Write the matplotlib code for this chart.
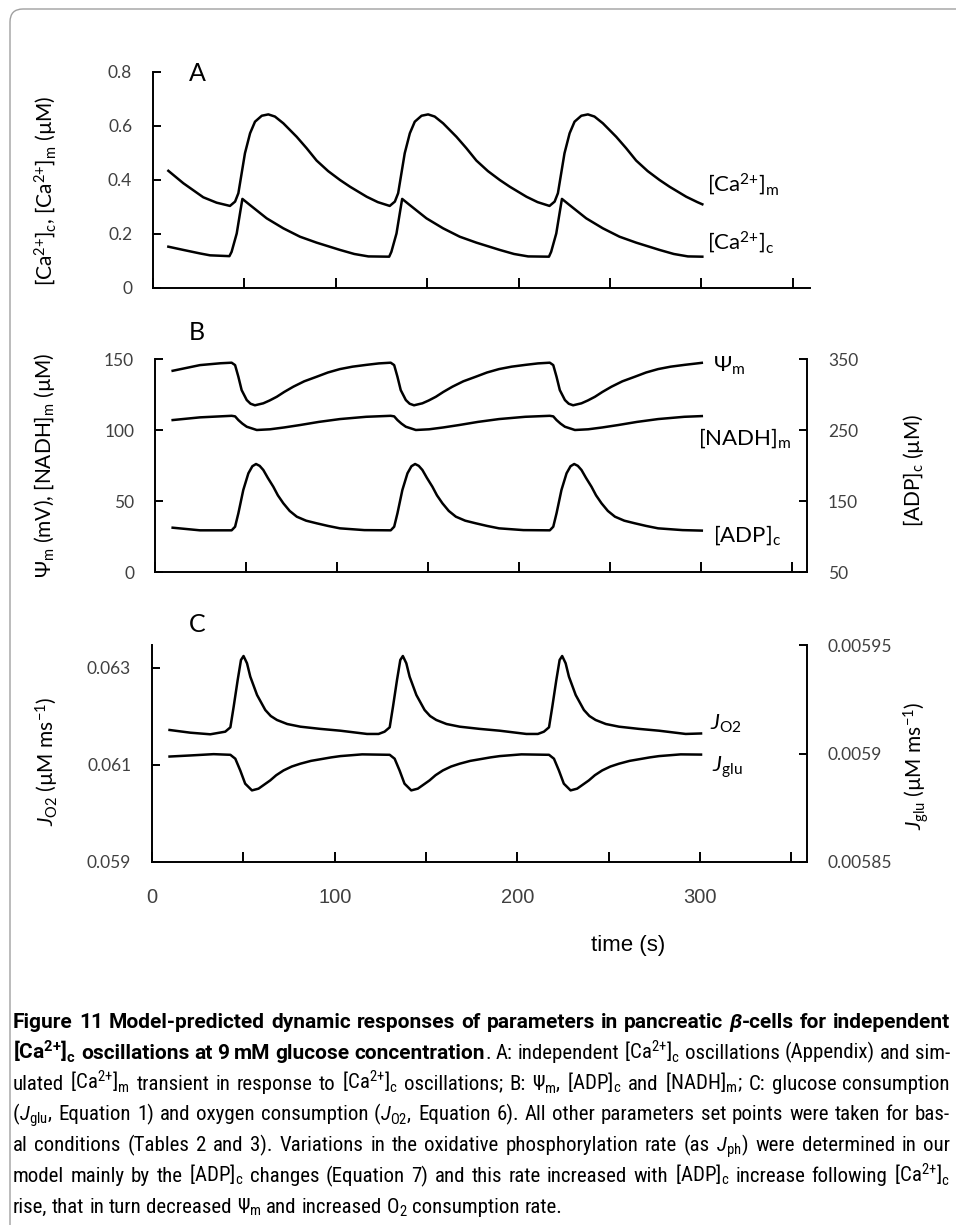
import matplotlib
matplotlib.use('Agg')
import matplotlib.pyplot as plt
from matplotlib import font_manager
from matplotlib.patches import FancyBboxPatch
from matplotlib.transforms import IdentityTransform

# ---------------------------------------------------------------- data
time_ticks = [0, 50, 100, 150, 200, 250, 300, 350]
time_ticklabels = ['0', '', '100', '', '200', '', '300', '']

# Panel A : [Ca2+]m and [Ca2+]c (uM)
ca_m_t = [8.4, 16.6, 27.5, 34.8,
          42.1, 44.9, 46.7, 48.5, 50.3, 53.1, 55.8, 59.5, 63.1, 66.7, 71.3, 78.6, 84.0, 89.5, 95.8, 102.3, 107.8, 116.9, 123.0,
          129.5, 132.3, 134.1, 135.9, 137.7, 140.5, 143.2, 146.9, 150.5, 154.1, 158.7, 166.0, 171.4, 176.9, 183.2, 189.7, 195.2, 204.3, 210.4,
          216.9, 219.7, 221.5, 223.3, 225.1, 227.9, 230.6, 234.3, 237.9, 241.5, 246.1, 253.4, 258.8, 264.3, 270.6, 277.1, 282.6, 291.7, 297.8,
          300.5]
ca_m = [0.434, 0.388, 0.336, 0.316,
        0.304, 0.320, 0.351, 0.425, 0.499, 0.573, 0.616, 0.638, 0.643, 0.635, 0.610, 0.560, 0.518, 0.472, 0.433, 0.400, 0.375, 0.338, 0.318,
        0.304, 0.320, 0.351, 0.425, 0.499, 0.573, 0.616, 0.638, 0.643, 0.635, 0.610, 0.560, 0.518, 0.472, 0.433, 0.400, 0.375, 0.338, 0.318,
        0.304, 0.320, 0.351, 0.425, 0.499, 0.573, 0.616, 0.638, 0.643, 0.635, 0.610, 0.560, 0.518, 0.472, 0.433, 0.400, 0.375, 0.338, 0.318,
        0.310]

ca_c_t = [8.4, 16.6, 25.7, 31.2, 41.8,
          43.0, 45.8, 47.6, 48.9, 53.1, 62.2, 71.3, 80.4, 89.5, 102.3, 110.1, 117.8, 129.2,
          130.4, 133.2, 135.0, 136.3, 140.5, 149.6, 158.7, 167.8, 176.9, 189.7, 197.5, 205.2, 216.6,
          217.8, 220.6, 222.4, 223.7, 227.9, 237.0, 246.1, 255.2, 264.3, 277.1, 284.9, 292.6, 300.5]
ca_c = [0.153, 0.141, 0.128, 0.121, 0.118,
        0.134, 0.202, 0.277, 0.330, 0.307, 0.258, 0.221, 0.190, 0.168, 0.141, 0.126, 0.117, 0.116,
        0.134, 0.202, 0.277, 0.330, 0.307, 0.258, 0.221, 0.190, 0.168, 0.141, 0.126, 0.117, 0.116,
        0.134, 0.202, 0.277, 0.330, 0.307, 0.258, 0.221, 0.190, 0.168, 0.141, 0.126, 0.117, 0.116]
ca_ticks = [0, 0.2, 0.4, 0.6, 0.8]
ca_ticklabels = ['0', '0.2', '0.4', '0.6', '0.8']

# Panel B : Psi_m (mV), [NADH]m (uM) on left axis; [ADP]c (uM) on right axis
psi_t = [9.7, 24.7, 36.0, 42.1,
         44.0, 45.8, 47.6, 50.4, 52.5, 54.9, 59.5, 63.0, 66.9, 71.0, 76.0, 82.0, 88.8, 95.0, 101.6, 108.5, 116.3, 123.0, 129.5,
         131.4, 133.2, 135.0, 137.8, 139.9, 142.3, 146.9, 150.4, 154.3, 158.4, 163.4, 169.4, 176.2, 182.4, 189.0, 195.9, 203.7, 210.4, 216.9,
         218.8, 220.6, 222.4, 225.2, 227.3, 229.7, 234.3, 237.8, 241.7, 245.8, 250.8, 256.8, 263.6, 269.8, 276.4, 283.3, 291.1, 297.8,
         300.4]
psi = [141.7, 145.7, 147.0, 147.4,
       145.7, 137.5, 128.1, 121.1, 118.5, 117.4, 118.8, 120.8, 123.4, 126.8, 130.5, 134.3, 137.5, 140.5, 142.9, 144.6, 145.9, 146.9, 147.4,
       145.7, 137.5, 128.1, 121.1, 118.5, 117.4, 118.8, 120.8, 123.4, 126.8, 130.5, 134.3, 137.5, 140.5, 142.9, 144.6, 145.9, 146.9, 147.4,
       145.7, 137.5, 128.1, 121.1, 118.5, 117.4, 118.8, 120.8, 123.4, 126.8, 130.5, 134.3, 137.5, 140.5, 142.9, 144.6, 145.9, 146.9,
       147.3]

nadh_t = [9.7, 24.7, 42.1,
          44.0, 45.8, 48.0, 50.4, 55.9, 63.2, 71.0, 79.7, 90.0, 101.6, 116.0, 129.5,
          131.4, 133.2, 135.4, 137.8, 143.3, 150.6, 158.4, 167.1, 177.4, 189.0, 203.4, 216.9,
          218.8, 220.6, 222.8, 225.2, 230.7, 238.0, 245.8, 254.5, 264.8, 276.4, 290.8, 300.4]
nadh = [107.0, 108.9, 110.0,
        109.6, 107.0, 104.5, 102.3, 100.0, 100.5, 101.8, 103.5, 105.7, 107.7, 109.3, 110.0,
        109.6, 107.0, 104.5, 102.3, 100.0, 100.5, 101.8, 103.5, 105.7, 107.7, 109.3, 110.0,
        109.6, 107.0, 104.5, 102.3, 100.0, 100.5, 101.8, 103.5, 105.7, 107.7, 109.3, 109.8]

adp_t = [9.7, 24.7, 42.1,
         44.0, 45.8, 48.5, 51.3, 53.5, 55.5, 57.5, 59.5, 62.0, 65.0, 67.5, 70.5, 74.0, 77.9, 83.0, 88.8, 95.0, 101.6, 115.0, 129.5,
         131.4, 133.2, 135.9, 138.7, 140.9, 142.9, 144.9, 146.9, 149.4, 152.4, 154.9, 157.9, 161.4, 165.3, 170.4, 176.2, 182.4, 189.0, 202.4, 216.9,
         218.8, 220.6, 223.3, 226.1, 228.3, 230.3, 232.3, 234.3, 236.8, 239.8, 242.3, 245.3, 248.8, 252.7, 257.8, 263.6, 269.8, 276.4, 289.8, 300.4]
adp = [112.4, 108.7, 108.7,
       113.8, 132.7, 165.5, 189.0, 199.0, 202.1, 199.5, 193.7, 182.5, 170.1, 158.0, 146.8, 136.0, 127.9, 122.3, 118.6, 114.9, 111.5, 109.0, 108.7,
       113.8, 132.7, 165.5, 189.0, 199.0, 202.1, 199.5, 193.7, 182.5, 170.1, 158.0, 146.8, 136.0, 127.9, 122.3, 118.6, 114.9, 111.5, 109.0, 108.7,
       113.8, 132.7, 165.5, 189.0, 199.0, 202.1, 199.5, 193.7, 182.5, 170.1, 158.0, 146.8, 136.0, 127.9, 122.3, 118.6, 114.9, 111.5, 109.0, 108.3]
left_b_ticks = [0, 50, 100, 150]
right_b_ticks = [50, 150, 250, 350]

# Panel C : J_O2 (left axis) and J_glu (right axis), uM/ms
jo2_t = [9.6, 21.0, 31.9, 40.1,
         42.9, 44.7, 46.9, 48.7, 50.1, 52.0, 53.8, 57.5, 62.0, 65.0, 68.4, 74.0, 81.2, 92.0, 103.1, 117.7, 124.0, 127.3,
         130.1, 131.9, 134.1, 135.9, 137.3, 139.2, 141.0, 144.7, 149.2, 152.2, 155.6, 161.2, 168.4, 179.2, 190.3, 204.9, 211.2, 214.5,
         217.3, 219.1, 221.3, 223.1, 224.5, 226.4, 228.2, 231.9, 236.4, 239.4, 242.8, 248.4, 255.6, 266.4, 277.5, 292.1,
         300.5]
jo2 = [0.061722, 0.061666, 0.061633, 0.061687,
       0.061777, 0.062202, 0.062753, 0.063165, 0.063247, 0.063097, 0.062821, 0.062443, 0.062134, 0.062010, 0.061928,
       0.061845, 0.061790, 0.061745, 0.061707, 0.061640, 0.061640, 0.061687,
       0.061777, 0.062202, 0.062753, 0.063165, 0.063247, 0.063097, 0.062821, 0.062443, 0.062134, 0.062010, 0.061928,
       0.061845, 0.061790, 0.061745, 0.061707, 0.061640, 0.061640, 0.061687,
       0.061777, 0.062202, 0.062753, 0.063165, 0.063247, 0.063097, 0.062821, 0.062443, 0.062134, 0.062010, 0.061928,
       0.061845, 0.061790, 0.061745, 0.061707, 0.061640,
       0.061650]

jglu_t = [9.6, 21.0, 33.7, 42.9,
          45.6, 48.3, 51.0, 54.7, 58.3, 64.7, 68.0, 72.0, 76.5, 81.2, 87.0, 93.9, 98.0, 103.1, 115.0, 130.1,
          132.8, 135.5, 138.2, 141.9, 145.5, 151.9, 155.2, 159.2, 163.7, 168.4, 174.2, 181.1, 185.2, 190.3, 202.2, 217.3,
          220.0, 222.7, 225.4, 229.1, 232.7, 239.1, 242.4, 246.4, 250.9, 255.6, 261.4, 268.3, 272.4, 277.5, 289.4, 300.5]
jglu = [0.0058986, 0.0058991, 0.0058997, 0.0058994,
        0.0058976, 0.0058922, 0.0058861, 0.0058830, 0.0058838, 0.0058876, 0.0058900, 0.0058922,
        0.0058940, 0.0058953, 0.0058966, 0.0058976, 0.0058982, 0.0058988, 0.0058996, 0.0058994,
        0.0058976, 0.0058922, 0.0058861, 0.0058830, 0.0058838, 0.0058876, 0.0058900, 0.0058922,
        0.0058940, 0.0058953, 0.0058966, 0.0058976, 0.0058982, 0.0058988, 0.0058996, 0.0058994,
        0.0058976, 0.0058922, 0.0058861, 0.0058830, 0.0058838, 0.0058876, 0.0058900, 0.0058922,
        0.0058940, 0.0058953, 0.0058966, 0.0058976, 0.0058982, 0.0058988, 0.0058996, 0.0058995]
left_c_ticks = [0.059, 0.061, 0.063]
left_c_ticklabels = ['0.059', '0.061', '0.063']
right_c_ticks = [0.00585, 0.0059, 0.00595]
right_c_ticklabels = ['0.00585', '0.0059', '0.00595']

# ---------------------------------------------------------------- style
W, H, DPI = 956, 1225, 100
plt.rcParams['font.family'] = ['Lato', 'DejaVu Sans']
plt.rcParams['mathtext.fontset'] = 'custom'
plt.rcParams['mathtext.rm'] = 'Lato'
plt.rcParams['mathtext.it'] = 'Lato:italic'
plt.rcParams['mathtext.bf'] = 'Lato:bold'
plt.rcParams['mathtext.fallback'] = 'stixsans'

names = {f.name for f in font_manager.fontManager.ttflist}
cap_font = 'Lato'
for cand in ['Roboto Condensed', 'Liberation Sans Narrow', 'Open Sans Condensed', 'Lato']:
    if cand in names:
        cap_font = cand
        break
cap_bold_font = 'Roboto' if (cap_font == 'Roboto Condensed' and 'Roboto' in names) else cap_font
arial = 'Liberation Sans' if 'Liberation Sans' in names else 'DejaVu Sans'

LW = 1.8
SPW = 1.4
TC = '#404040'

fig = plt.figure(figsize=(W / DPI, H / DPI), dpi=DPI)
fig.patch.set_facecolor('white')


def fx(x):
    return x / W


def fy(y):
    return 1 - y / H


def add_axes_px(l, r, t, b):
    return fig.add_axes([l / W, 1 - b / H, (r - l) / W, (b - t) / H])


def style(ax):
    ax.spines['top'].set_visible(False)
    ax.spines['right'].set_visible(False)
    for s in ['left', 'bottom']:
        ax.spines[s].set_linewidth(SPW)
    ax.tick_params(axis='y', direction='in', length=6, width=SPW, pad=15,
                   labelsize=12.5, labelcolor=TC)
    ax.tick_params(axis='x', direction='in', length=7, width=SPW, pad=19,
                   labelsize=14.5, labelcolor=TC)
    ax.set_xticks(time_ticks)
    ax.set_facecolor('none')


def style_right(ax2):
    for s in ['top', 'left', 'bottom']:
        ax2.spines[s].set_visible(False)
    ax2.spines['right'].set_linewidth(SPW)
    ax2.tick_params(axis='y', direction='in', length=6, width=SPW, pad=15,
                    labelsize=12.5, labelcolor=TC)


# ---------------- Panel A
axA = add_axes_px(153, 810, 72, 288)
style(axA)
axA.plot(ca_m_t, ca_m, color='black', lw=LW, solid_joinstyle='round')
axA.plot(ca_c_t, ca_c, color='black', lw=LW, solid_joinstyle='round')
axA.set_xlim(0, 359.4)
axA.set_ylim(0, 0.8)
axA.tick_params(labelbottom=False)
axA.set_yticks(ca_ticks)
axA.set_yticklabels(ca_ticklabels)

# ---------------- Panel B
axB = add_axes_px(155, 807, 359, 572)
style(axB)
axB.plot(psi_t, psi, color='black', lw=LW, solid_joinstyle='round')
axB.plot(nadh_t, nadh, color='black', lw=LW, solid_joinstyle='round')
axB.set_xlim(0, 358.2)
axB.set_ylim(0, 150)
axB.tick_params(labelbottom=False)
axB.set_yticks(left_b_ticks)
axB2 = axB.twinx()
style_right(axB2)
axB2.plot(adp_t, adp, color='black', lw=LW, solid_joinstyle='round')
axB2.set_ylim(50, 350)
axB2.set_yticks(right_b_ticks)

# ---------------- Panel C
axC = add_axes_px(152, 807, 645, 862)
style(axC)
axC.plot(jo2_t, jo2, color='black', lw=LW, solid_joinstyle='round')
axC.set_xlim(0, 358.5)
axC.set_ylim(0.059, 0.063474)
axC.set_yticks(left_c_ticks)
axC.set_yticklabels(left_c_ticklabels)
axC.set_xticklabels(time_ticklabels)
for lab in axC.get_xticklabels():
    lab.set_fontfamily(arial)
axC2 = axC.twinx()
style_right(axC2)
axC2.plot(jglu_t, jglu, color='black', lw=LW, solid_joinstyle='round')
axC2.set_ylim(0.00585, 0.00595)
axC2.set_yticks(right_c_ticks)
axC2.set_yticklabels(right_c_ticklabels)

# ---------------- panel letters
for letter, (x, y) in {'A': (197, 73.5), 'B': (197, 333), 'C': (197, 624)}.items():
    fig.text(fx(x), fy(y), letter, fontsize=18, ha='center', va='center', color='black')

# ---------------- axis titles
CA_C = r'$\mathregular{[Ca^{2{+}}]_c}$'
CA_M = r'$\mathregular{[Ca^{2{+}}]_m}$'
ADP_C = r'$\mathregular{[ADP]_c}$'

ylab = dict(rotation=90, ha='center', va='center', fontsize=15, color='black')
fig.text(fx(46), fy(191), CA_C + ', ' + CA_M + ' (µM)', **ylab)
fig.text(fx(45), fy(465), r'Ψ$_\mathregular{m}$ (mV), $\mathregular{[NADH]_m}$ (µM)', **ylab)
fig.text(fx(913), fy(470), ADP_C + ' (µM)', **ylab)
fig.text(fx(47), fy(761), r'$J_\mathregular{O2}$ (µM ms$^\mathregular{-1}$)', **ylab)
fig.text(fx(916), fy(766), r'$J_\mathregular{glu}$ (µM ms$^\mathregular{-1}$)', **ylab)

fig.text(fx(628), fy(945), 'time (s)', fontsize=16, family=arial, ha='center', va='center', color='black')

# ---------------- series labels
sl = dict(fontsize=16, ha='left', va='center', color='black')
fig.text(fx(707), fy(184), CA_M, **sl)
fig.text(fx(707), fy(242), CA_C, **sl)
fig.text(fx(713), fy(366), r'Ψ$_\mathregular{m}$', **sl)
fig.text(fx(698), fy(438), r'$\mathregular{[NADH]_m}$', **sl)
fig.text(fx(713), fy(535), ADP_C, **sl)
fig.text(fx(710), fy(724), r'$J_\mathregular{O2}$', **sl)
fig.text(fx(712), fy(767), r'$J_\mathregular{glu}$', **sl)

# ---------------- frame
frame = FancyBboxPatch((10, -40), 990, H - 9 + 40,
                       boxstyle='round,pad=0,rounding_size=13',
                       transform=IdentityTransform(), facecolor='none',
                       edgecolor='#a0a0a0', linewidth=1.0, zorder=0)
fig.patches.append(frame)

# ---------------- caption


def r(*ws):
    return [[(w, 'r')] for w in ws]


def b(*ws):
    return [[(w, 'b')] for w in ws]


lines = [
    b('Figure', '11', 'Model-predicted', 'dynamic', 'responses', 'of', 'parameters', 'in', 'pancreatic')
    + [[('β', 'bi'), ('-cells', 'b')]] + b('for', 'independent'),
    b(CA_C, 'oscillations', 'at', '9', 'mM', 'glucose') + [[('concentration', 'b'), ('.', 'r')]]
    + r('A:', 'independent', CA_C, 'oscillations', '(Appendix)', 'and', 'sim-'),
    r('ulated', CA_M, 'transient', 'in', 'response', 'to', CA_C, 'oscillations;', 'B:')
    + [[('Ψ', 'r'), (r'$_\mathregular{m}$,', 'r')]] + r(ADP_C, 'and', r'$\mathregular{[NADH]_m}$;', 'C:',
                                                          'glucose', 'consumption'),
    [[('(', 'r'), ('J', 'i'), (r'$_\mathregular{glu}$,', 'r')]] + r('Equation', '1)', 'and', 'oxygen', 'consumption')
    + [[('(', 'r'), ('J', 'i'), (r'$_\mathregular{O2}$,', 'r')]]
    + r('Equation', '6).', 'All', 'other', 'parameters', 'set', 'points', 'were', 'taken', 'for', 'bas-'),
    r('al', 'conditions', '(Tables', '2', 'and', '3).', 'Variations', 'in', 'the', 'oxidative', 'phosphorylation',
      'rate', '(as') + [[('J', 'i'), (r'$_\mathregular{ph}$)', 'r')]] + r('were', 'determined', 'in', 'our'),
    r('model', 'mainly', 'by', 'the', ADP_C, 'changes', '(Equation', '7)', 'and', 'this', 'rate', 'increased',
      'with', ADP_C, 'increase', 'following', CA_C),
    r('rise,', 'that', 'in', 'turn', 'decreased') + [[('Ψ', 'r'), (r'$_\mathregular{m}$', 'r')]]
    + r('and', 'increased') + [[('O', 'r'), (r'$_\mathregular{2}$', 'r')]] + r('consumption', 'rate.'),
]
justify = [True, True, True, True, True, True, False]

STY = {'r': ('normal', 'normal'), 'b': ('bold', 'normal'),
       'i': ('normal', 'italic'), 'bi': ('bold', 'italic')}
renderer = fig.canvas.get_renderer()
X0, X1 = 13, 950
BASE0, LH = 1028, 30.8


def build(size):
    out = []
    for line in lines:
        wl = []
        for word in line:
            segs = []
            for txt, st in word:
                wgt, sty = STY[st]
                fam = cap_bold_font if wgt == 'bold' else cap_font
                t = fig.text(0, 0, txt, fontsize=size, fontweight=wgt, fontstyle=sty,
                             family=[fam, 'DejaVu Sans'], ha='left', va='baseline',
                             color='black', transform=IdentityTransform())
                wdt = t.get_window_extent(renderer).width
                segs.append((t, wdt))
            wl.append(segs)
        out.append(wl)
    sp = fig.text(0, 0, 'n n', fontsize=size, family=[cap_font, 'DejaVu Sans'],
                  transform=IdentityTransform())
    nn = fig.text(0, 0, 'nn', fontsize=size, family=[cap_font, 'DejaVu Sans'],
                  transform=IdentityTransform())
    space = sp.get_window_extent(renderer).width - nn.get_window_extent(renderer).width
    sp.remove()
    nn.remove()
    return out, space


size0 = 13.0
built, space = build(size0)
nat = []
for wl in built:
    tot = sum(w for segs in wl for _, w in segs)
    nat.append(tot + space * (len(wl) - 1))
for wl in built:
    for segs in wl:
        for t, _ in segs:
            t.remove()
scale = (X1 - X0) * 0.985 / max(nat[2:6])
size = min(size0 * scale, 15.0)
built, space = build(size)

for li, wl in enumerate(built):
    y = H - (BASE0 + li * LH)
    widths = [sum(w for _, w in segs) for segs in wl]
    n = len(wl)
    if justify[li] and n > 1:
        gap = max((X1 - X0 - sum(widths)) / (n - 1), 0.6 * space)
    else:
        gap = space
    x = X0
    for segs in wl:
        for t, w in segs:
            t.set_position((x, y))
            x += w
        x += gap

fig.savefig('out.png', dpi=DPI, facecolor='white')
